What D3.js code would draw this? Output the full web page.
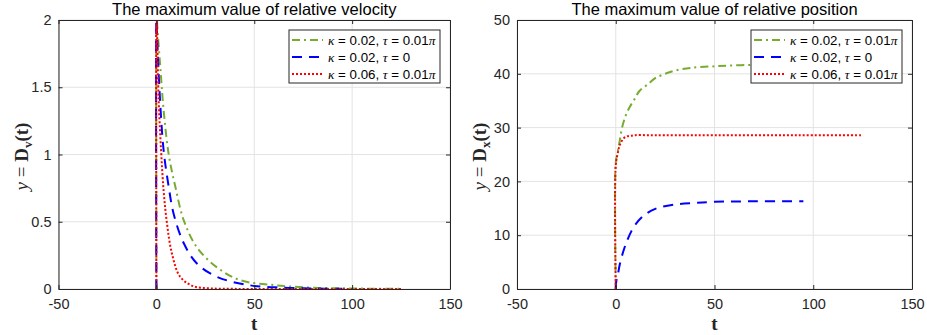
<!DOCTYPE html>
<html><head><meta charset="utf-8">
<script src="https://cdn.jsdelivr.net/npm/d3@7"></script>
<style>body{margin:0;background:#fff}svg{display:block}</style>
</head><body>
<svg id="c" width="927" height="335"></svg>
<script>
// ---- data ----
const xTicks = [-50, 0, 50, 100, 150];
const velTicks = [0, 0.5, 1, 1.5, 2];
const posTicks = [0, 10, 20, 30, 40, 50];

const velGreenT = [0, 0, 0.3, 2, 3.7, 6.3, 9.7, 14, 20.7, 31, 43, 61.5, 80, 100, 125];
const velGreenY = [0, 2.2, 2.0, 1.65, 1.33, 1.0, 0.76, 0.51, 0.31, 0.16, 0.065, 0.027, 0.01, 0.004, 0.001];
const velBlueT = [0, 0, 0.3, 1.7, 3.7, 6.3, 8.8, 14, 20.7, 31, 48, 65, 80, 95];
const velBlueY = [0, 2.0, 1.9, 1.45, 1.03, 0.76, 0.56, 0.34, 0.19, 0.09, 0.027, 0.01, 0.004, 0.001];
const velRedT = [0, 0, 0.3, 1.2, 2.4, 3.7, 5.4, 8, 12.2, 19, 27.5, 40, 60, 90, 125];
const velRedY = [0, 2.2, 1.95, 1.4, 1.03, 0.73, 0.49, 0.26, 0.09, 0.02, 0.005, 0.001, 0, 0, 0];

const posGreenT = [0, 0, 1, 2, 3.2, 5, 7, 9.2, 12, 16.8, 20, 25, 30, 38, 50, 63.6, 80, 100, 125];
const posGreenY = [0, 23.5, 25.5, 27.5, 30, 32.2, 33.8, 35.1, 36.8, 38.2, 39.2, 40, 40.6, 41.1, 41.4, 41.6, 41.7, 41.7, 41.7];
const posBlueT = [0, 0.3, 1, 2, 4, 6, 8, 10, 14, 20, 30, 40, 50, 70, 95];
const posBlueY = [0, 1.5, 2.5, 4.5, 7.2, 9.2, 10.8, 12, 13.6, 14.9, 15.7, 16.0, 16.2, 16.3, 16.3];
const posRedT = [0, 0, 1, 2, 4, 6, 8, 10, 15, 20, 30, 50, 80, 100, 125];
const posRedY = [0, 23, 25.2, 26.7, 28, 28.4, 28.5, 28.6, 28.6, 28.6, 28.6, 28.6, 28.6, 28.6, 28.6];

const legendKappa = ["0.02", "0.02", "0.06"];
const legendTau = ["0.01π", "0", "0.01π"];

// ---- drawing ----
const svg = d3.select("#c");
const colors = ["#77AC30", "#0000FF", "#FF0000"];
const dashes = ["8,4,2,4", "10,7", "2,2"];
const sans = "Liberation Sans, Arial, sans-serif";
const serif = "Liberation Serif, 'Times New Roman', serif";

function panel(opts) {
  const {x0, x1, y0, y1, yDomain, yTicks, title, sub, series, id} = opts;
  const x = d3.scaleLinear().domain([-50, 150]).range([x0, x1]);
  const y = d3.scaleLinear().domain(yDomain).range([y1, y0]);
  const g = svg.append("g");
  g.append("clipPath").attr("id", id).append("rect")
    .attr("x", x0).attr("y", y0).attr("width", x1 - x0).attr("height", y1 - y0);
  // grid
  g.selectAll(".gx").data(xTicks).join("line")
    .attr("x1", d => x(d)).attr("x2", d => x(d)).attr("y1", y0).attr("y2", y1)
    .attr("stroke", "#e3e3e3").attr("stroke-width", 1);
  g.selectAll(".gy").data(yTicks).join("line")
    .attr("x1", x0).attr("x2", x1).attr("y1", d => y(d)).attr("y2", d => y(d))
    .attr("stroke", "#e3e3e3").attr("stroke-width", 1);
  // lines
  const line = d3.line().x(d => x(d[0])).y(d => y(d[1])).curve(d3.curveCatmullRom.alpha(0.5));
  const lg = g.append("g").attr("clip-path", `url(#${id})`);
  series.forEach((s, i) => {
    lg.append("path").datum(d3.zip(s[0], s[1]))
      .attr("d", line).attr("fill", "none")
      .attr("stroke", colors[i]).attr("stroke-width", 2)
      .attr("stroke-dasharray", dashes[i]);
  });
  // axes
  const fmt = d => String(d);
  const bottom = d3.axisBottom(x).tickValues(xTicks).tickSizeInner(-4).tickSizeOuter(0).tickPadding(10).tickFormat(fmt);
  const left = d3.axisLeft(y).tickValues(yTicks).tickSizeInner(-4).tickSizeOuter(0).tickPadding(7).tickFormat(fmt);
  const top = d3.axisTop(x).tickValues(xTicks).tickSizeInner(-4).tickSizeOuter(0).tickFormat("");
  const right = d3.axisRight(y).tickValues(yTicks).tickSizeInner(-4).tickSizeOuter(0).tickFormat("");
  const ax = [
    g.append("g").attr("transform", `translate(0,${y1})`).call(bottom),
    g.append("g").attr("transform", `translate(${x0},0)`).call(left),
    g.append("g").attr("transform", `translate(0,${y0})`).call(top),
    g.append("g").attr("transform", `translate(${x1},0)`).call(right)
  ];
  ax.forEach(a => {
    a.select(".domain").attr("stroke", "#262626").attr("stroke-width", 1);
    a.selectAll(".tick line").attr("stroke", "#262626");
    a.selectAll("text").attr("fill", "#262626").style("font-family", sans).style("font-size", "14.5px");
  });
  // title
  g.append("text").attr("x", (x0 + x1) / 2).attr("y", 15).attr("text-anchor", "middle")
    .style("font-family", sans).style("font-size", "16.5px").attr("fill", "#000")
    .text(title);
  // x label
  g.append("text").attr("x", (x0 + x1) / 2).attr("y", 330).attr("text-anchor", "middle")
    .style("font-family", serif).style("font-size", "19px").style("font-weight", "bold")
    .attr("fill", "#262626").text("t");
  // y label
  const yl = g.append("text").attr("transform", `translate(${x0 - 31},${(y0 + y1) / 2 + 2}) rotate(-90)`)
    .attr("text-anchor", "middle").style("font-family", serif).style("font-size", "19px")
    .attr("fill", "#262626");
  yl.append("tspan").style("font-style", "italic").text("y");
  yl.append("tspan").text(" = ");
  yl.append("tspan").style("font-weight", "bold").text("D");
  yl.append("tspan").style("font-weight", "bold").style("font-size", "13px").attr("dy", 4).text(sub);
  yl.append("tspan").style("font-weight", "bold").attr("dy", -4).text("(t)");
  // legend
  const lw = 151, lh = 53;
  const lx = x1 - 10 - lw, ly = 30;
  const leg = g.append("g");
  leg.append("rect").attr("x", lx).attr("y", ly).attr("width", lw).attr("height", lh)
    .attr("fill", "#fff").attr("stroke", "#262626").attr("stroke-width", 1);
  legendKappa.forEach((k, i) => {
    const ry = ly + 10 + i * 17;
    leg.append("line").attr("x1", lx + 3).attr("x2", lx + 34).attr("y1", ry).attr("y2", ry)
      .attr("stroke", colors[i]).attr("stroke-width", 2).attr("stroke-dasharray", dashes[i]);
    const t = leg.append("text").attr("x", lx + 39).attr("y", ry + 5)
      .style("font-family", sans).style("font-size", "13.3px").attr("fill", "#000");
    t.append("tspan").style("font-family", serif).style("font-style", "italic").text("κ");
    t.append("tspan").text(" = " + k + ", ");
    t.append("tspan").style("font-family", serif).style("font-style", "italic").text("τ");
    const tv = legendTau[i];
    if (tv.endsWith("π")) {
      t.append("tspan").text(" = " + tv.slice(0, -1));
      t.append("tspan").style("font-family", serif).style("font-style", "italic").text("π");
    } else {
      t.append("tspan").text(" = " + tv);
    }
  });
}

panel({id: "cl", x0: 58.5, x1: 450, y0: 20, y1: 289, yDomain: [0, 2], yTicks: velTicks,
  title: "The maximum value of relative velocity", sub: "v",
  series: [[velGreenT, velGreenY], [velBlueT, velBlueY], [velRedT, velRedY]]});
panel({id: "cr", x0: 517, x1: 912, y0: 20, y1: 289, yDomain: [0, 50], yTicks: posTicks,
  title: "The maximum value of relative position", sub: "x",
  series: [[posGreenT, posGreenY], [posBlueT, posBlueY], [posRedT, posRedY]]});
</script>
</body></html>
